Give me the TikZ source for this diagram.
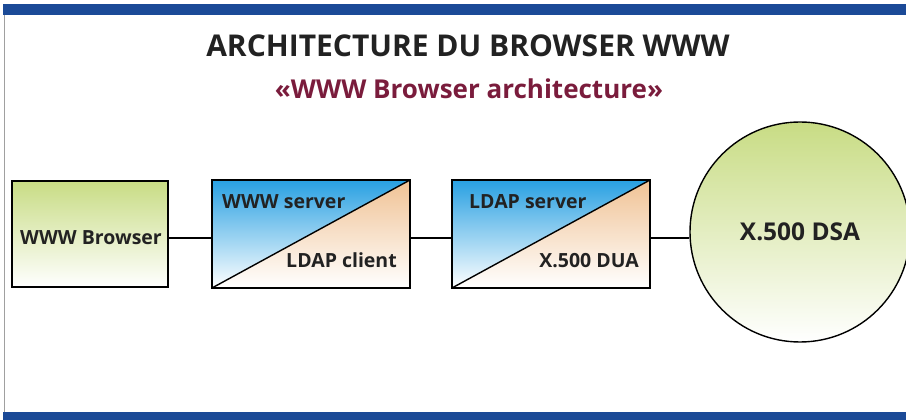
\documentclass[tikz,border=0pt]{standalone}
\usepackage{fontspec}
\setmainfont{Open Sans}
\usetikzlibrary{calc}

\definecolor{barblue}{HTML}{1B4A97}
\definecolor{framegrey}{HTML}{A0A0A0}
\definecolor{titleink}{HTML}{222222}
\definecolor{subink}{HTML}{7A1C3C}
\definecolor{leafgreen}{HTML}{C8DC84}
\definecolor{skyblue}{HTML}{28A0E2}
\definecolor{peach}{HTML}{F0C294}

\tikzset{
  outline/.style={draw=black, line width=1.4pt},
  greenbox/.style={outline, inner sep=0pt,
    top color=leafgreen, middle color=leafgreen!35, bottom color=white},
  splitbox/.style={outline, inner sep=0pt, minimum width=198pt, minimum height=108pt,
    path picture={
      \shade[top color=skyblue, bottom color=white]
        (path picture bounding box.south west) -- (path picture bounding box.north west)
        -- (path picture bounding box.north east) -- cycle;
      \shade[top color=peach, bottom color=white]
        (path picture bounding box.south west) -- (path picture bounding box.north east)
        -- (path picture bounding box.south east) -- cycle;
      \draw[line width=1.4pt] (path picture bounding box.south west)
        -- (path picture bounding box.north east);
    }},
  label/.style={font=\bfseries\fontsize{19.5}{22}\selectfont, text=titleink, inner sep=0pt},
  link/.style={line width=1.4pt}
}

\begin{document}
\begin{tikzpicture}[x=1pt, y=1pt]
  \useasboundingbox (0,0) rectangle (906,420);
  \clip (0,0) rectangle (906,420);

  % page frame: blue bands and thin left rule
  \fill[barblue] (3,405) rectangle (906,416);
  \fill[barblue] (3,0) rectangle (906,8);
  \draw[framegrey, line width=0.8pt] (4.5,8) -- (4.5,405);

  % headings
  \node[font=\bfseries\fontsize{30}{34}\selectfont, text=titleink, anchor=base]
    (title) at (468,363) {ARCHITECTURE DU BROWSER WWW};
  \node[font=\bfseries\fontsize{26}{30}\selectfont, text=subink, anchor=base]
    (subtitle) at (469,321) {«WWW Browser architecture»};

  % components
  \node[greenbox, minimum width=156pt, minimum height=106pt] (browser) at (90,186) {};
  \node[splitbox] (wwwsrv) at (311,186) {};
  \node[splitbox] (ldapsrv) at (551,186) {};
  \node[outline, circle, minimum size=220pt, inner sep=0pt,
    top color=leafgreen, middle color=leafgreen!40, bottom color=white] (dsa) at (800,188) {};

  % labels
  \node[label, anchor=base west] (lbrowser) at (20,175) {WWW Browser};
  \node[label, anchor=base west] (lwww) at (222,211) {WWW server};
  \node[label, anchor=base east] (lclient) at (397,152) {LDAP client};
  \node[label, anchor=base west] (lldap) at (469,211) {LDAP server};
  \node[label, anchor=base east] (ldua) at (639,152) {X.500 DUA};
  \node[font=\bfseries\fontsize{24.5}{28}\selectfont, text=titleink, anchor=base]
    (ldsa) at (800,179) {X.500 DSA};

  % connectors
  \coordinate (wire) at (0,182);
  \draw[link] (browser.east |- wire) -- (wwwsrv.west |- wire);
  \draw[link] (wwwsrv.east |- wire) -- (ldapsrv.west |- wire);
  \draw[link] (ldapsrv.east |- wire) -- (dsa.west |- wire);
\end{tikzpicture}
\end{document}
